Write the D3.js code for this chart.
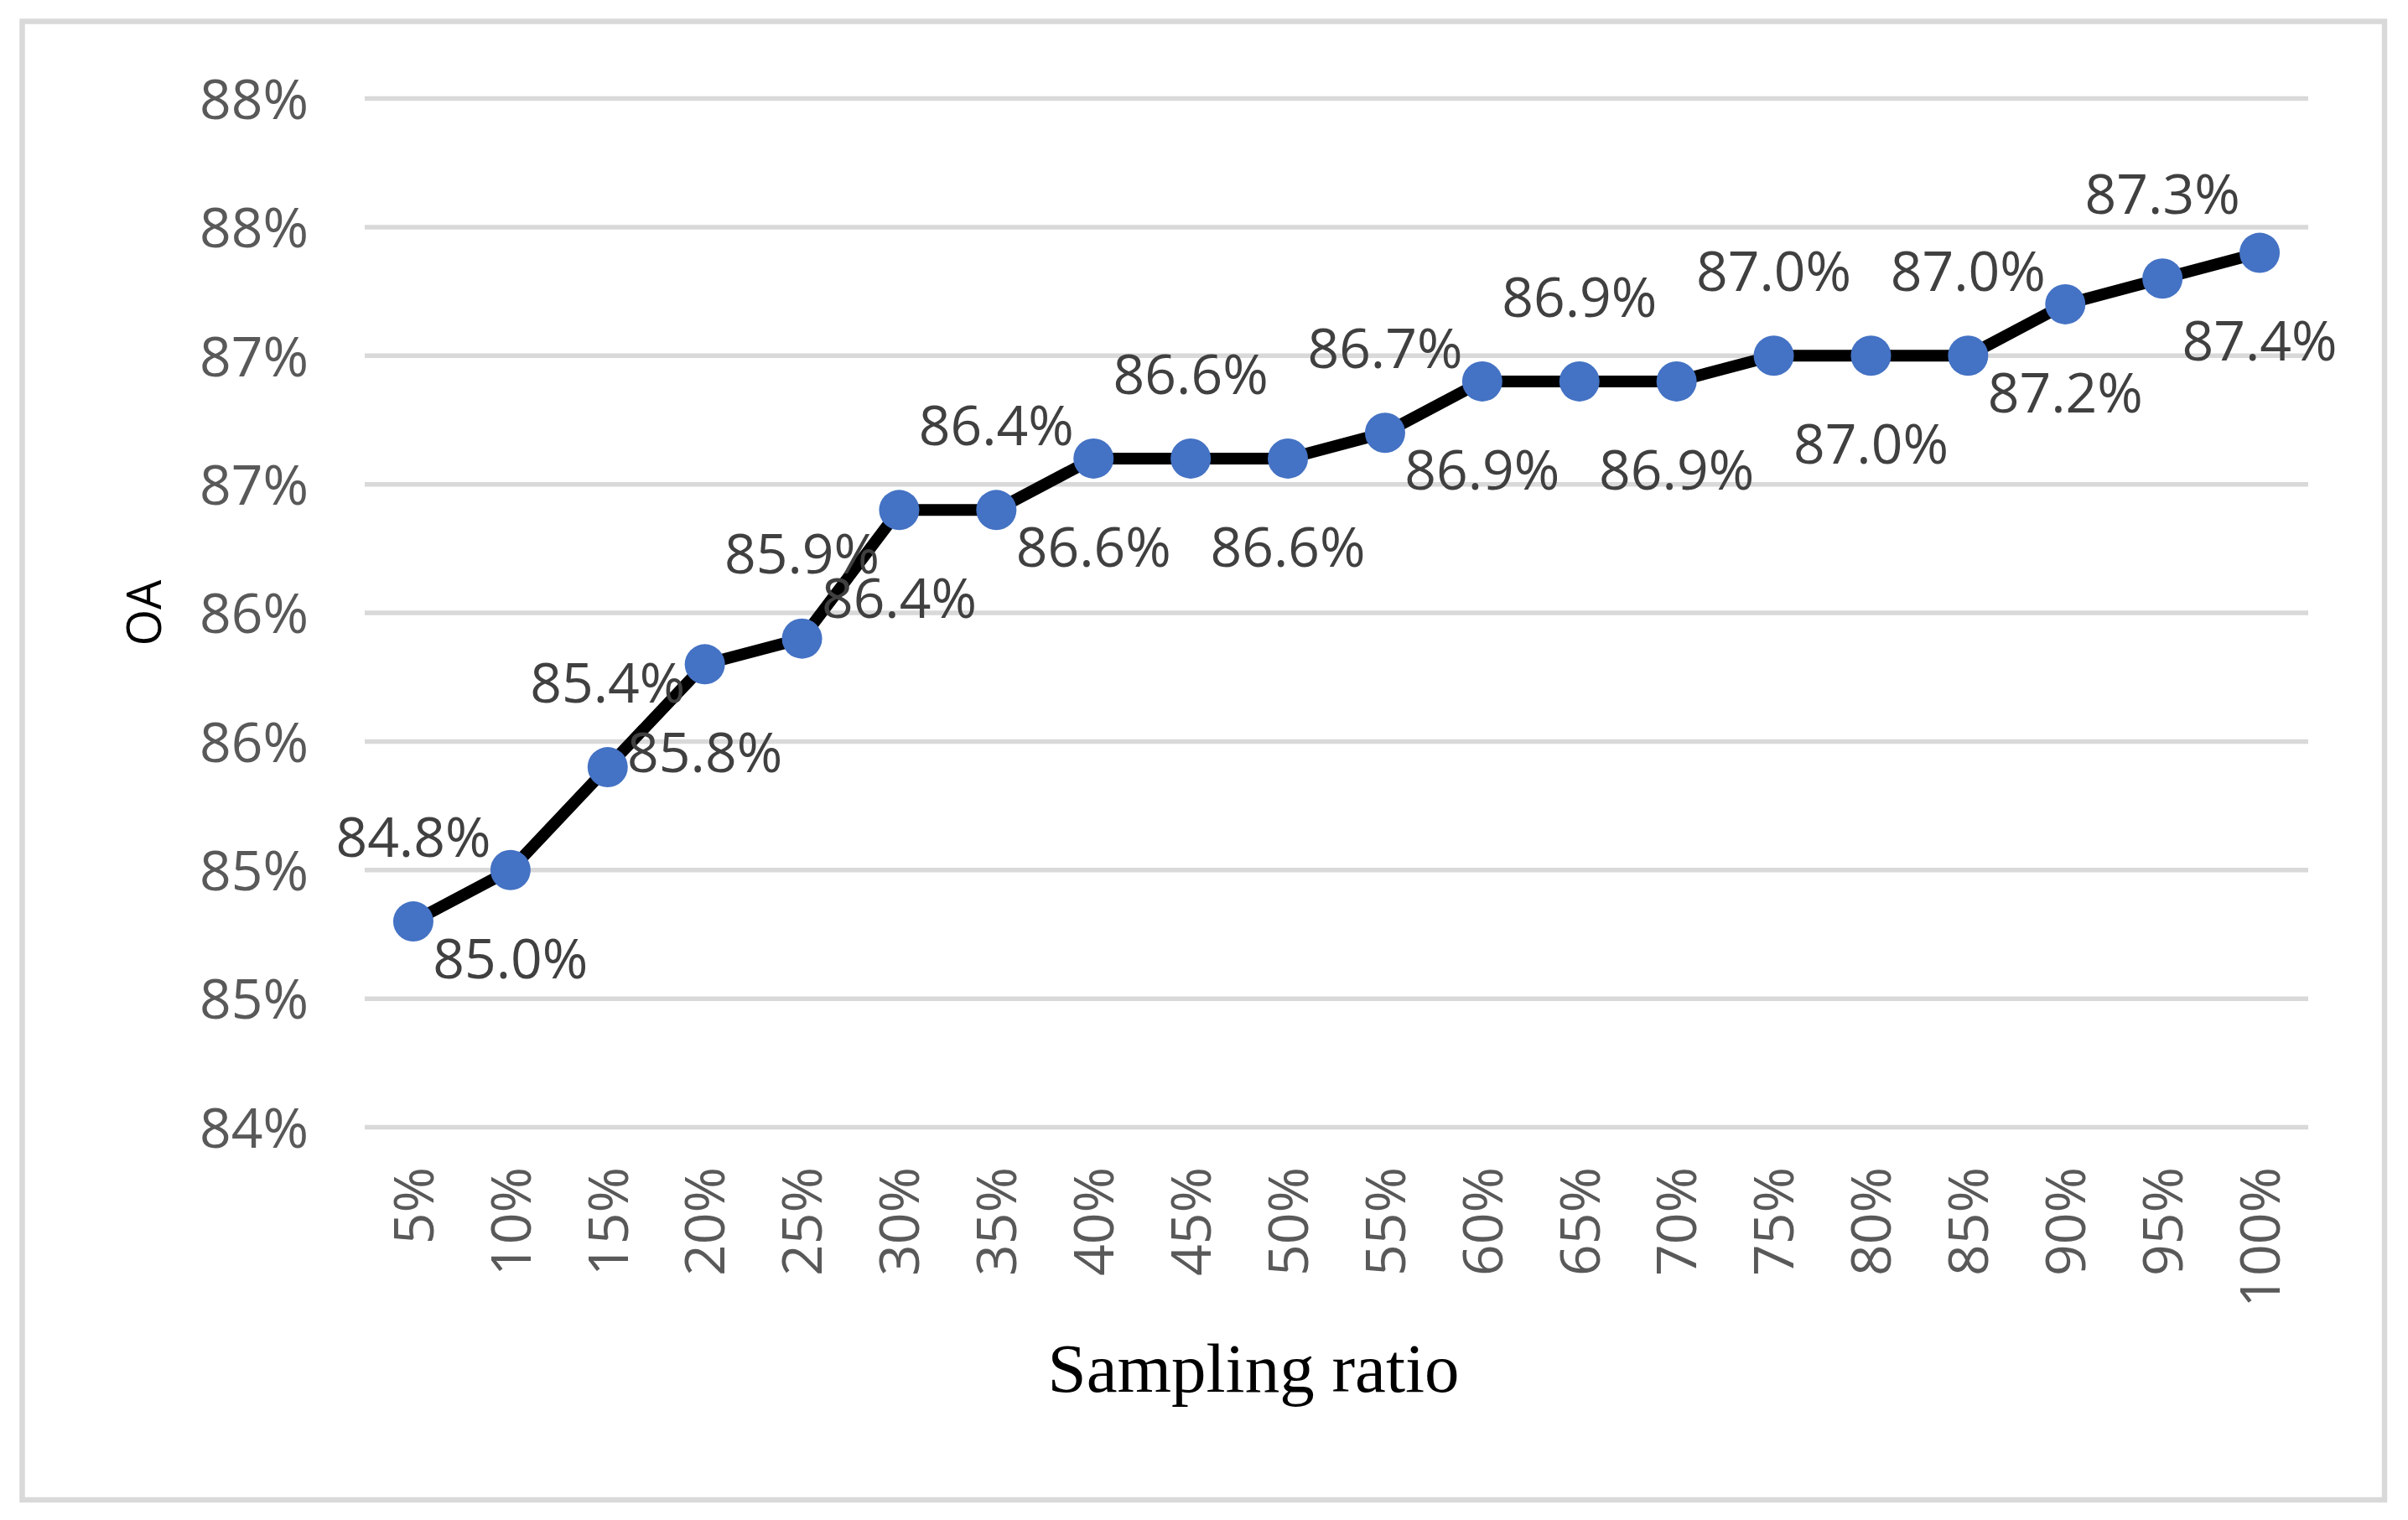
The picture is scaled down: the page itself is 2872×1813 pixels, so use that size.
<!DOCTYPE html>
<html>
<head>
<meta charset="utf-8">
<script src="https://cdn.jsdelivr.net/npm/d3@7"></script>
<style>
  html, body { margin: 0; padding: 0; background: #ffffff; }
  svg { display: block; }
</style>
</head>
<body>
<script>
// ---- Data ----
const categories = ["5%","10%","15%","20%","25%","30%","35%","40%","45%","50%","55%","60%","65%","70%","75%","80%","85%","90%","95%","100%"];
const oaValues = [84.8, 85.0, 85.4, 85.8, 85.9, 86.4, 86.4, 86.6, 86.6, 86.6, 86.7, 86.9, 86.9, 86.9, 87.0, 87.0, 87.0, 87.2, 87.3, 87.4];
const yTickValues = [84, 84.5, 85, 85.5, 86, 86.5, 87, 87.5, 88];
const yTickLabels = ["84%","85%","85%","86%","86%","87%","87%","88%","88%"];
const xTitle = "Sampling ratio";
const yTitle = "OA";

// ---- Layout ----
const W = 2872, H = 1813;
const plot = { left: 435, right: 2753, top: 117.5, bottom: 1344.5 };

const svg = d3.select("body").append("svg")
  .attr("width", W).attr("height", H)
  .attr("viewBox", `0 0 ${W} ${H}`);

svg.append("rect").attr("x", 0).attr("y", 0).attr("width", W).attr("height", H).attr("fill", "#ffffff");

// outer border
svg.append("rect")
  .attr("x", 26.5).attr("y", 25.5)
  .attr("width", 2844 - 26.5).attr("height", 1789 - 25.5)
  .attr("fill", "none").attr("stroke", "#d9d9d9").attr("stroke-width", 6.5);

const x = d3.scaleBand().domain(categories).range([plot.left, plot.right]).padding(0);
const y = d3.scaleLinear().domain([84, 88]).range([plot.bottom, plot.top]);
const cx = c => x(c) + x.bandwidth() / 2;

const tickFont = "'Open Sans', 'Noto Sans', sans-serif";

// gridlines
svg.append("g").selectAll("line").data(yTickValues).join("line")
  .attr("x1", plot.left).attr("x2", plot.right)
  .attr("y1", d => y(d)).attr("y2", d => y(d))
  .attr("stroke", "#d9d9d9").attr("stroke-width", 5.5);

// y tick labels (via axis generator)
const yAxis = d3.axisLeft(y).tickValues(yTickValues)
  .tickFormat((d, i) => yTickLabels[i]).tickSize(0).tickPadding(0);
const gy = svg.append("g").attr("transform", `translate(368,0)`).call(yAxis);
gy.select(".domain").remove();
gy.selectAll("text")
  .attr("font-family", tickFont).attr("font-size", 66).attr("fill", "#595959")
  .attr("x", 0).attr("dy", "0.36em").attr("text-anchor", "end");

// x tick labels rotated
const xAxis = d3.axisBottom(x).tickSize(0).tickPadding(0);
const gx = svg.append("g").attr("transform", `translate(0,1392)`).call(xAxis);
gx.select(".domain").remove();
gx.selectAll("text")
  .attr("font-family", tickFont).attr("font-size", 66).attr("fill", "#595959")
  .attr("transform", "rotate(-90)")
  .attr("x", 0).attr("y", 0).attr("dy", "0.36em")
  .attr("text-anchor", "end");

// line
const line = d3.line().x((d, i) => cx(categories[i])).y(d => y(d));
svg.append("path").datum(oaValues)
  .attr("d", line).attr("fill", "none")
  .attr("stroke", "#000000").attr("stroke-width", 14).attr("stroke-linejoin", "round");

// markers
svg.append("g").selectAll("circle").data(oaValues).join("circle")
  .attr("cx", (d, i) => cx(categories[i])).attr("cy", d => y(d))
  .attr("r", 24).attr("fill", "#4472c4");

// data labels: alternating above / below
svg.append("g").selectAll("text").data(oaValues).join("text")
  .attr("x", (d, i) => cx(categories[i]))
  .attr("y", (d, i) => y(d) + (i % 2 === 0 ? -101 : 105))
  .attr("dy", "0.36em")
  .attr("text-anchor", "middle")
  .attr("font-family", tickFont).attr("font-size", 66).attr("fill", "#404040")
  .text(d => d.toFixed(1) + "%");

// axis titles
svg.append("text")
  .attr("transform", `translate(172,731) rotate(-90)`)
  .attr("dy", "0.36em").attr("text-anchor", "middle")
  .attr("font-family", tickFont).attr("font-size", 56).attr("fill", "#000000")
  .text(yTitle);

svg.append("text")
  .attr("x", 1495).attr("y", 1660).attr("text-anchor", "middle")
  .attr("font-family", "'Liberation Serif', 'Times New Roman', serif")
  .attr("font-size", 83).attr("fill", "#000000")
  .text(xTitle);
</script>
</body>
</html>
